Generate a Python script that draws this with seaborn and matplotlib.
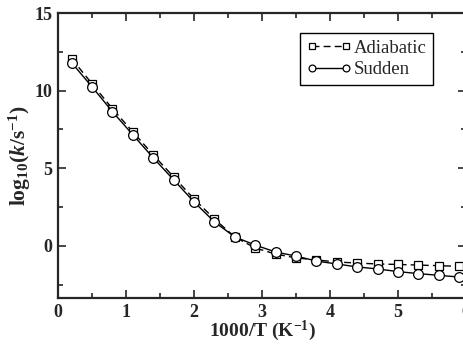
import pandas as pd
import matplotlib.pyplot as plt
import seaborn as sns
from matplotlib.ticker import MultipleLocator

sns.set_style("ticks")
plt.rcParams['font.family'] = ['Liberation Serif', 'DejaVu Serif']
plt.rcParams['mathtext.fontset'] = 'custom'
plt.rcParams['mathtext.rm'] = 'Liberation Serif:bold'
plt.rcParams['mathtext.it'] = 'Liberation Serif:bold:italic'
plt.rcParams['mathtext.bf'] = 'Liberation Serif:bold'

inv_t = [0.2, 0.5, 0.8, 1.1, 1.4, 1.7, 2.0, 2.3, 2.6, 2.9,
         3.2, 3.5, 3.8, 4.1, 4.4, 4.7, 5.0, 5.3, 5.6, 5.9]
adiabatic = [12.06, 10.45, 8.84, 7.35, 5.87, 4.45, 3.03, 1.74, 0.58, -0.13,
             -0.52, -0.77, -0.90, -1.03, -1.10, -1.16, -1.19, -1.23, -1.27, -1.31]
sudden = [11.80, 10.25, 8.65, 7.16, 5.68, 4.26, 2.84, 1.55, 0.58, 0.06,
          -0.39, -0.65, -0.97, -1.16, -1.35, -1.48, -1.65, -1.78, -1.89, -2.00]

df = pd.DataFrame({'x': inv_t, 'Adiabatic': adiabatic, 'Sudden': sudden})

fig = plt.figure(figsize=(4.64, 3.44), dpi=100)
ax = fig.add_axes([58 / 464, 46 / 344, 408 / 464, 285 / 344])

sns.lineplot(data=df, x='x', y='Adiabatic', ax=ax, color='black', lw=1,
             marker='s', markersize=6, markerfacecolor='white',
             markeredgecolor='black', markeredgewidth=0.9,
             dashes=(5, 3), label='Adiabatic', sort=False)
sns.lineplot(data=df, x='x', y='Sudden', ax=ax, color='black', lw=1,
             marker='o', markersize=7, markerfacecolor='white',
             markeredgecolor='black', markeredgewidth=0.9,
             label='Sudden', sort=False)

ax.set_xlim(0, 6)
ax.set_ylim(-3.35, 15)
ax.xaxis.set_major_locator(MultipleLocator(1))
ax.xaxis.set_minor_locator(MultipleLocator(0.5))
ax.yaxis.set_major_locator(MultipleLocator(5))
ax.yaxis.set_minor_locator(MultipleLocator(2.5))
ax.tick_params(which='both', direction='in', top=True, right=True,
               width=1.2, labelsize=13, pad=4)
ax.tick_params(which='major', length=6)
ax.tick_params(which='minor', length=3.5)
for lab in ax.get_xticklabels() + ax.get_yticklabels():
    lab.set_fontweight('bold')
for sp in ax.spines.values():
    sp.set_linewidth(1.6)

ax.set_xlabel('1000/T (K$^{-1}$)', fontsize=14, fontweight='bold', labelpad=-1)
ax.set_ylabel('log$_{10}$($k$/s$^{-1}$)', fontsize=15.5, fontweight='bold', labelpad=1)

leg = ax.legend(loc='upper right', bbox_to_anchor=(0.919, 0.93), borderaxespad=0,
                fancybox=False, edgecolor='black', framealpha=1, fontsize=13.5,
                handlelength=2.4, handletextpad=0.1, numpoints=2, markerscale=0.7,
                borderpad=0.35, labelspacing=0.25)
leg.get_frame().set_linewidth(1.0)

fig.savefig('out.png', dpi=100)
